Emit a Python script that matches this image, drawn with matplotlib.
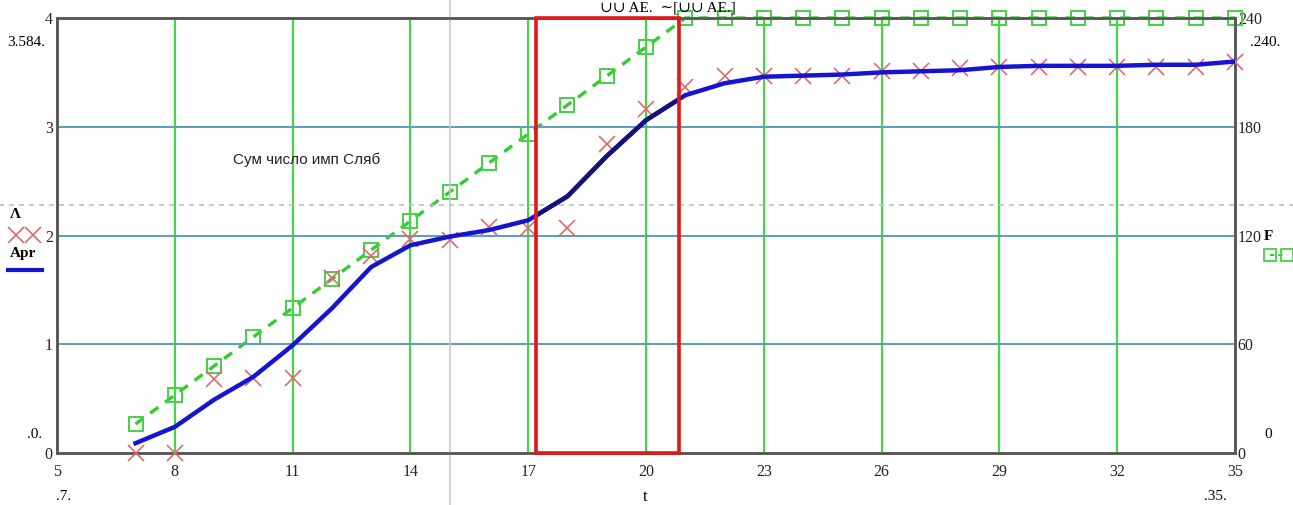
import numpy as np
import matplotlib.pyplot as plt
from matplotlib.patches import Rectangle
from matplotlib.lines import Line2D

# time axis, integer steps
t = list(range(7, 36))

# measured values (left axis), red crosses
lam = [0, 0, 0.68, 0.69, 0.69, 1.61, 1.81, 1.97, 1.96, 2.08, 2.07, 2.07, 2.84, 3.16,
       3.37, 3.47, 3.47, 3.47, 3.47, 3.51, 3.51, 3.54, 3.55, 3.55, 3.55, 3.55, 3.55,
       3.55, 3.60]

# approximation curve (left axis), blue line
apr = [0.09, 0.24, 0.49, 0.70, 0.99, 1.33, 1.71, 1.91, 1.99, 2.05, 2.14, 2.36, 2.73,
       3.06, 3.29, 3.40, 3.46, 3.47, 3.48, 3.50, 3.51, 3.52, 3.55, 3.56, 3.56, 3.56,
       3.57, 3.57, 3.60]

# cumulative count (right axis), green squares
F = [16, 32, 48, 64, 80, 96, 112, 128, 144, 160, 176, 192, 208, 224, 240, 240, 240,
     240, 240, 240, 240, 240, 240, 240, 240, 240, 240, 240, 240]

xticks = [5, 8, 11, 14, 17, 20, 23, 26, 29, 32, 35]
yticks_l = [0, 1, 2, 3, 4]
yticks_r = [0, 60, 120, 180, 240]
box_t = (17.2, 20.85)

plt.rcParams['font.family'] = ['Liberation Serif', 'DejaVu Serif']

fig = plt.figure(figsize=(12.93, 5.05), dpi=100)
ax = fig.add_axes([57/1293, 52/505, 1178/1293, 435/505])
ax.set_xlim(5, 35)
ax.set_ylim(0, 4)

# grid
for x in xticks[1:-1]:
    ax.axvline(x, color='#3ddc3d', lw=1.5, zorder=1)
for y in yticks_l[1:-1]:
    ax.axhline(y, color='#5f9fb8', lw=1.5, zorder=1)

# trace cursor lines
ax.axvline(15, ymin=-0.13, ymax=1.05, color='#c8c8c8', lw=1.2, clip_on=False, zorder=1)
ax.axhline(2.28, xmin=-0.05, xmax=1.05, color='#c0c0c0', lw=1.2, ls=(0, (3, 3)),
           clip_on=False, zorder=1)

ax2 = ax.twinx()
ax2.set_ylim(0, 240)
ax2.plot(t, F, color='#33cc33', lw=2.4, ls=(0, (3, 2.5)), marker='s', ms=10,
         mfc='none', mec='#44d044', mew=1.4, clip_on=False, zorder=3)

ax.plot(t, lam, ls='none', marker='x', ms=11, mew=1.2, color='#e06a6a',
        clip_on=False, zorder=4)
ax.plot(t, apr, color='#1414d2', lw=3.2, zorder=5)
ax.set_zorder(ax2.get_zorder() + 1)
ax.patch.set_visible(False)

box = Rectangle((box_t[0], 0), box_t[1] - box_t[0], 4, fill=False,
                ec='#e01818', lw=2.6, zorder=6, clip_on=False)
ax.add_patch(box)
# curve looks darker inside the highlighted window
dark, = ax.plot(t, apr, color='#12127a', lw=3.2, zorder=5)
dark.set_clip_path(box)

ax.text(11.35, 2.70, 'Сум число имп Сляб', fontsize=11, family='Liberation Sans',
        ha='center', va='center', color='#222222', zorder=7)

for a in (ax, ax2):
    for s in a.spines.values():
        s.set_color('#555555')
        s.set_linewidth(1.8)
    a.tick_params(length=0, labelsize=11.5, colors='#222222')

ax.set_xticks(xticks)
ax.set_yticks(yticks_l)
ax.tick_params(axis='x', pad=8)
ax.tick_params(axis='y', pad=3)
ax2.set_yticks(yticks_r)
ax2.tick_params(axis='y', pad=2)

# axis labels and range markers
fig.text(645/1293, 1 - 497/505, 't', ha='center', va='center', fontsize=12)
fig.text(64/1293, 1 - 497/505, '.7.', ha='center', va='center', fontsize=11)
fig.text(1215/1293, 1 - 497/505, '.35.', ha='center', va='center', fontsize=11)
fig.text(26/1293, 1 - 42/505, '3.584.', ha='center', va='center', fontsize=11)
fig.text(35/1293, 1 - 435/505, '.0.', ha='center', va='center', fontsize=11)
fig.text(1265/1293, 1 - 42/505, '.240.', ha='center', va='center', fontsize=11)
fig.text(1268/1293, 1 - 435/505, '0', ha='center', va='center', fontsize=11)
fig.text(668/1293, 1 - 1/505, '\u222a\u222a AE.  \u223c[\u222a\u222a AE.]', ha='center',
         va='top', fontsize=11)

# left legend
fig.text(10/1293, 1 - 215/505, 'Λ', ha='left', va='center', fontsize=11, weight='bold')
fig.add_artist(Line2D([16/1293, 33/1293], [1 - 235/505] * 2, ls='none', marker='x',
                      ms=11, mew=1.2, color='#e06a6a'))
fig.text(10/1293, 1 - 253/505, 'Apr', ha='left', va='center', fontsize=11, weight='bold')
fig.add_artist(Line2D([8/1293, 42/1293], [1 - 270/505] * 2, color='#1414d2', lw=3))

# right legend
fig.text(1264/1293, 1 - 237/505, 'F', ha='left', va='center', fontsize=11, weight='bold')
fig.add_artist(Line2D([1270/1293, 1287/1293], [1 - 255/505] * 2, color='#33cc33',
                      lw=1.5, ls=(0, (2, 2)), marker='s', ms=8, mfc='none',
                      mec='#44d044', mew=1.3))

fig.savefig('out.png', dpi=100)
